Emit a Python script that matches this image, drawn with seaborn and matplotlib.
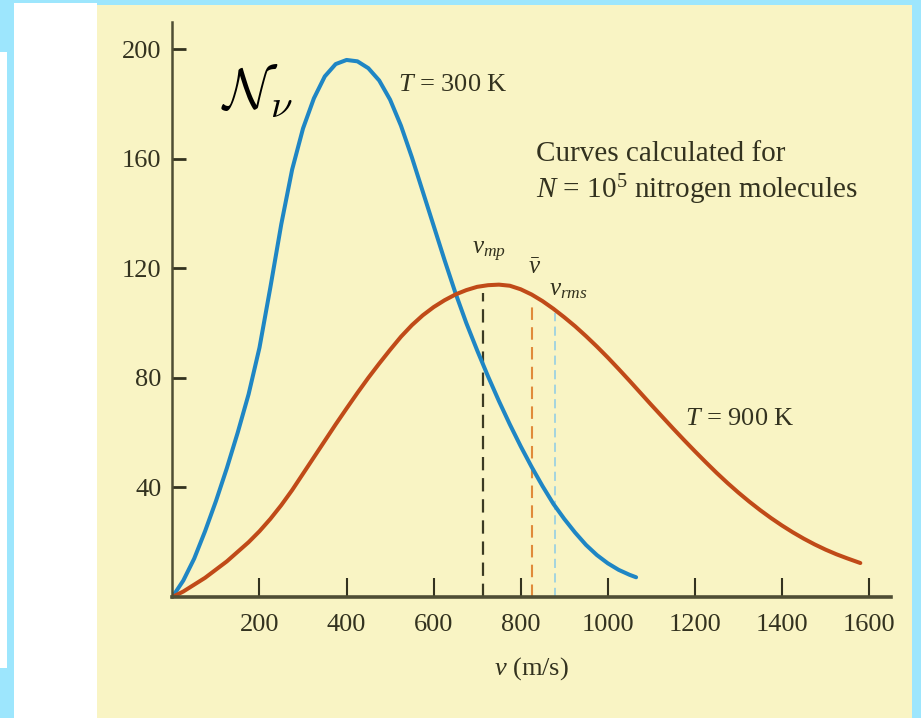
import matplotlib
matplotlib.use("Agg")
import matplotlib.pyplot as plt
import matplotlib.patches as mpatches
import seaborn as sns
import pandas as pd

# ---- data ----
v_300 = [0, 25, 50, 75, 100, 125, 150, 175, 200, 225, 250, 275, 300, 325, 350, 375,
         400, 425, 450, 475, 500, 525, 550, 575, 600, 625, 650, 675, 700, 725, 750,
         775, 800, 825, 850, 875, 900, 925, 950, 975, 1000, 1025, 1050, 1065]
n_300 = [0, 6, 14, 24, 35, 47, 60, 74, 91, 113, 136, 156, 171, 182, 190, 194.5,
         196, 195.5, 193, 188.5, 181.5, 172, 160.5, 148, 135.5, 123, 111, 100, 90, 80.5, 71.5,
         63, 55, 47.5, 40.5, 34, 28.5, 23.5, 19, 15.3, 12.3, 9.9, 8.1, 7.2]
v_900 = [0, 25, 50, 75, 100, 125, 150, 175, 200, 225, 250, 275, 300, 325, 350, 375,
         400, 425, 450, 475, 500, 525, 550, 575, 600, 625, 650, 675, 700, 725, 750,
         775, 800, 825, 850, 875, 900, 925, 950, 975, 1000, 1025, 1050, 1075, 1100,
         1125, 1150, 1175, 1200, 1225, 1250, 1275, 1300, 1325, 1350, 1375, 1400,
         1425, 1450, 1475, 1500, 1525, 1550, 1580]
n_900 = [0, 2, 4.5, 7, 10, 13, 16.5, 20, 24, 28.5, 33.5, 39, 45, 51, 57, 63,
         68.8, 74.5, 80, 85.2, 90.2, 95, 99.2, 102.8, 105.8, 108.3, 110.4, 112, 113.2, 113.8, 114,
         113.6, 112.3, 110.4, 108, 105.2, 102.1, 98.8, 95.2, 91.4, 87.4, 83.2, 78.9, 74.5, 70.1,
         65.8, 61.5, 57.3, 53.2, 49.2, 45.3, 41.6, 38.1, 34.8, 31.7, 28.8, 26.1,
         23.6, 21.3, 19.2, 17.3, 15.6, 14.1, 12.4]
speed_names = ["vmp", "vbar", "vrms"]
speed_v = [714, 825, 879]
speed_top = [111, 107, 103.5]
x_ticks = [200, 400, 600, 800, 1000, 1200, 1400, 1600]
y_ticks = [40, 80, 120, 160, 200]

df = pd.concat([
    pd.DataFrame({"v": v_300, "N": n_300, "T": "300 K"}),
    pd.DataFrame({"v": v_900, "N": n_900, "T": "900 K"}),
])

plt.rcParams["font.family"] = ["Liberation Serif", "DejaVu Serif"]
plt.rcParams["mathtext.fontset"] = "custom"
plt.rcParams["mathtext.rm"] = "Liberation Serif"
plt.rcParams["mathtext.it"] = "Liberation Serif:italic"
plt.rcParams["mathtext.bf"] = "Liberation Serif:bold"

W, H = 921, 718
BLUE_BG = "#9de6fd"
CREAM = "#f9f4c4"
INK = "#33321f"

fig = plt.figure(figsize=(W / 100, H / 100), dpi=100, facecolor=BLUE_BG)

def px_rect(x0, y0, x1, y1, color):
    fig.patches.append(mpatches.Rectangle((x0 / W, 1 - y1 / H), (x1 - x0) / W, (y1 - y0) / H,
                                          transform=fig.transFigure, color=color, zorder=-10,
                                          linewidth=0))

px_rect(0, 52, 7, 668, "white")
px_rect(14, 3, 97, 718, "white")
px_rect(97, 5, 912, 718, CREAM)

# axes placement in pixels
x0_px, x1_px = 172.4, 890.8
y0_px, y1_px = 597, 21.6
ax = fig.add_axes([x0_px / W, 1 - y0_px / H, (x1_px - x0_px) / W, (y0_px - y1_px) / H])
ax.set_facecolor("none")
ax.set_zorder(5)

sns.lineplot(data=df, x="v", y="N", hue="T", palette={"300 K": "#1f86c4", "900 K": "#c04a18"},
             linewidth=2.9, legend=False, ax=ax, estimator=None, sort=False)
for ln in ax.lines:
    ln.set_solid_capstyle("round")
    ln.set_solid_joinstyle("round")

dash_colors = ["#3b3a22", "#e08a3a", "#8ccbe6"]
dash_lw = [1.6, 1.5, 1.1]
for v, top, c, lw in zip(speed_v, speed_top, dash_colors, dash_lw):
    ax.plot([v, v], [0, top], color=c, lw=lw, dashes=(6, 3.5), zorder=1)

ax.set_xlim(0, 1650)
ax.set_ylim(0, 210)
ax.set_xticks(x_ticks)
ax.set_yticks(y_ticks)
ax.set_xticklabels([str(t) for t in x_ticks])
ax.set_yticklabels([str(t) for t in y_ticks])
for s in ["top", "right"]:
    ax.spines[s].set_visible(False)
ax.spines["bottom"].set_linewidth(2.6)
ax.spines["left"].set_linewidth(1.8)
ax.spines["bottom"].set_color("#4f4e34")
ax.spines["left"].set_color("#4f4e34")
ax.tick_params(axis="x", direction="in", length=14, width=1.5, color=INK,
               labelsize=19, labelcolor=INK, pad=12)
ax.tick_params(axis="y", direction="in", length=10, width=2, color=INK,
               labelsize=19, labelcolor=INK, pad=8)
ax.set_xlabel("$v$ (m/s)", fontsize=19, color=INK, labelpad=14)
ax.set_ylabel("")

ax.text(518, 187, "$T$ = 300 K", fontsize=19, color=INK, va="center", ha="left")
ax.text(1177, 65, "$T$ = 900 K", fontsize=19, color=INK, va="center", ha="left")
ax.text(836, 161.5, "Curves calculated for", fontsize=21, color=INK, va="center", ha="left")
ax.text(836, 148.5, "$N$ = 10$^5$ nitrogen molecules", fontsize=21, color=INK,
        va="center", ha="left")
ax.text(688, 126, "$v_{mp}$", fontsize=18, color=INK, va="center", ha="left")
ax.text(816, 120, r"$\bar{v}$", fontsize=18, color=INK, va="center", ha="left")
ax.text(866, 112, "$v_{rms}$", fontsize=18, color=INK, va="center", ha="left")

fig.text(221 / W, 1 - 92 / H, r"$\mathcal{N}_{\nu}$", fontsize=40, color="black",
         math_fontfamily="cm", va="center", ha="left", zorder=6)

fig.savefig("out.png", dpi=100, facecolor=BLUE_BG)
